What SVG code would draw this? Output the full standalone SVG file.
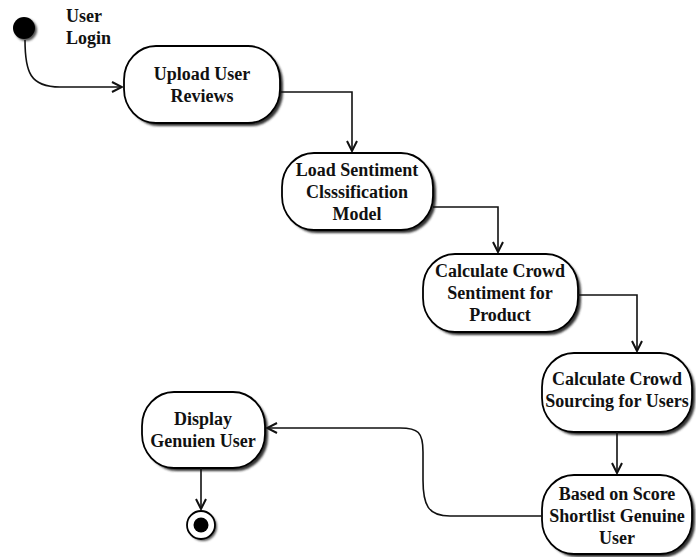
<svg xmlns="http://www.w3.org/2000/svg" width="696" height="557" viewBox="0 0 696 557">
<defs>
<style>
.box{fill:#fff;stroke:#000;stroke-width:1.8}
.sh{fill:#333;filter:url(#blur)}
.t{font-family:"Liberation Serif","Times New Roman",serif;font-weight:bold;font-size:18px;fill:#111;text-anchor:middle}
.c{fill:none;stroke:#111;stroke-width:1.6;marker-end:url(#arr)}
</style>
<filter id="blur" x="-10%" y="-10%" width="130%" height="130%"><feGaussianBlur stdDeviation="1"/></filter>
<marker id="arr" viewBox="0 0 12 12" refX="11" refY="6" markerWidth="12" markerHeight="12" markerUnits="userSpaceOnUse" orient="auto">
<path d="M1,1 L11,6 L1,11" fill="none" stroke="#111" stroke-width="2"/>
</marker>
</defs>
<rect width="696" height="557" fill="#fff"/>
<g id="start">
<circle cx="26" cy="30" r="11" fill="#555" filter="url(#blur)"/>
<circle cx="24" cy="28" r="11" fill="#000"/>
<text class="t" x="66" y="22" style="text-anchor:start">User</text>
<text class="t" x="66" y="44" style="text-anchor:start">Login</text>
</g>
<g id="n1">
<rect class="sh" x="127" y="49" width="156" height="77" rx="32" ry="34"/>
<rect class="box" x="124" y="46" width="156" height="77" rx="32" ry="34"/>
<text class="t" x="202" y="80">Upload User</text>
<text class="t" x="202" y="102">Reviews</text>
</g>
<g id="n2">
<rect class="sh" x="285" y="156" width="151" height="77" rx="32" ry="34"/>
<rect class="box" x="282" y="153" width="151" height="77" rx="32" ry="34"/>
<text class="t" x="357" y="176">Load Sentiment</text>
<text class="t" x="357" y="198">Clsssification</text>
<text class="t" x="357" y="220">Model</text>
</g>
<g id="n3">
<rect class="sh" x="426" y="257" width="155" height="78" rx="32" ry="34"/>
<rect class="box" x="423" y="254" width="155" height="78" rx="32" ry="34"/>
<text class="t" x="500" y="277">Calculate Crowd</text>
<text class="t" x="500" y="299">Sentiment for</text>
<text class="t" x="500" y="321">Product</text>
</g>
<g id="n4">
<rect class="sh" x="545" y="356" width="150" height="79" rx="32" ry="34"/>
<rect class="box" x="542" y="353" width="150" height="79" rx="32" ry="34"/>
<text class="t" x="617" y="385">Calculate Crowd</text>
<text class="t" x="617" y="407">Sourcing for Users</text>
</g>
<g id="n5">
<rect class="sh" x="545" y="478" width="150" height="79" rx="32" ry="34"/>
<rect class="box" x="542" y="475" width="150" height="79" rx="32" ry="34"/>
<text class="t" x="617" y="500">Based on Score</text>
<text class="t" x="617" y="522">Shortlist Genuine</text>
<text class="t" x="617" y="544">User</text>
</g>
<g id="n6">
<rect class="sh" x="145" y="395" width="123" height="76" rx="32" ry="34"/>
<rect class="box" x="142" y="392" width="123" height="76" rx="32" ry="34"/>
<text class="t" x="203" y="425">Display</text>
<text class="t" x="203" y="447">Genuien User</text>
</g>
<g id="end">
<circle cx="203" cy="527" r="14" fill="#555" filter="url(#blur)"/>
<circle cx="201" cy="525" r="14" fill="#fff" stroke="#000" stroke-width="1.8"/>
<circle cx="201" cy="525" r="7.5" fill="#000"/>
</g>
<g id="connectors">
<path class="c" d="M25,40 C25,72 30,87 60,87 L122,87"/>
<path class="c" d="M280,92 L352,92 L352,151"/>
<path class="c" d="M433,207 L498,207 L498,252"/>
<path class="c" d="M578,295 L637,295 L637,351"/>
<path class="c" d="M617,432 L617,473"/>
<path class="c" d="M542,516 L450,516 C428,516 423,505 423,480 L423,452 C423,432 418,428 400,428 L267,428"/>
<path class="c" d="M201,468 L201,509"/>
</g>
</svg>
